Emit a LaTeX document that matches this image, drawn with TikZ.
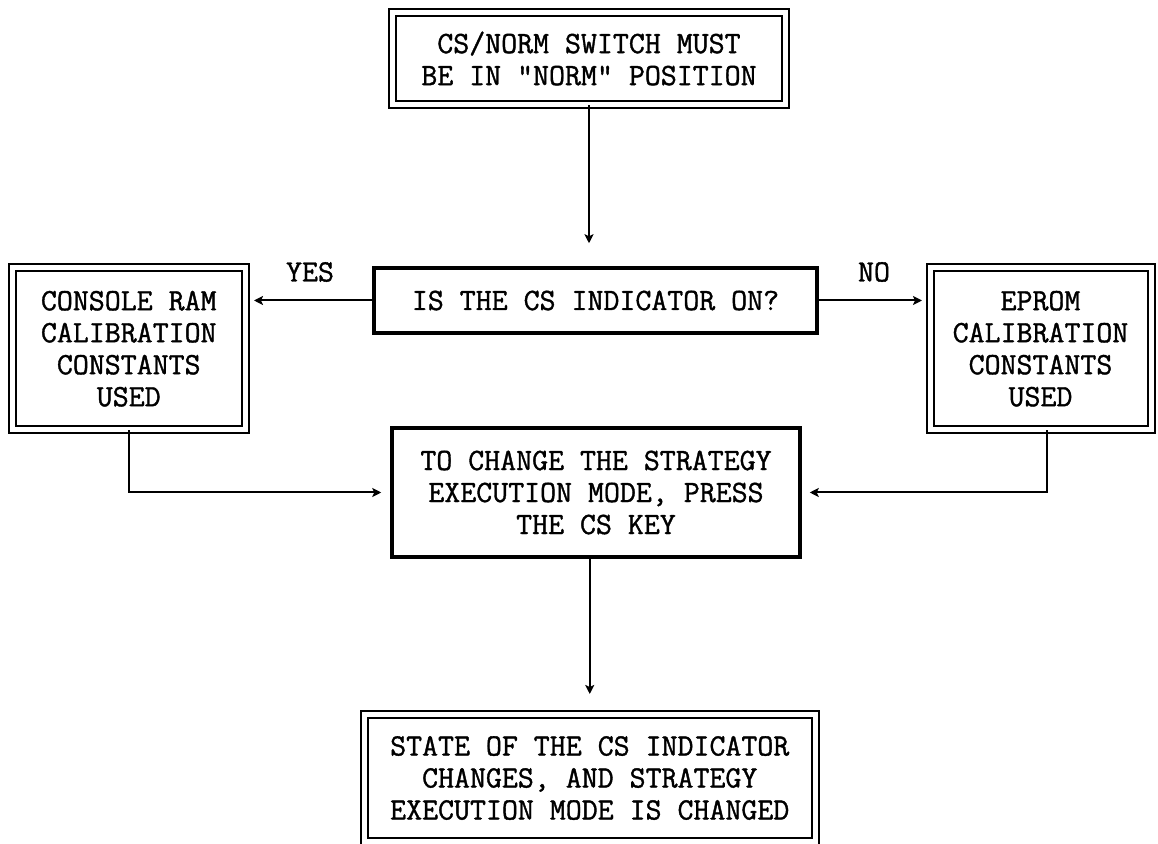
\documentclass[tikz,border=0pt]{standalone}
\usepackage{fontspec}
\usetikzlibrary{arrows.meta}
\newfontfamily\typer[FakeBold=1.2]{Latin Modern Mono}
\begin{document}
\begin{tikzpicture}[x=0.5pt,y=-0.5pt,
  txt/.style={font=\typer\fontsize{15.5}{16}\selectfont, align=center, inner sep=0pt},
  dblbox/.style={txt, draw, line width=1pt, double, double distance=2.5pt},
  thkbox/.style={txt, draw, line width=1.75pt},
  arr/.style={line width=1pt, -{Stealth[length=4.5pt,width=4.5pt,inset=1pt]}},
  lbl/.style={font=\typer\fontsize{15.5}{16}\selectfont, inner sep=0pt}]
\useasboundingbox (0,0) rectangle (1158,844);

% boxes
\node[dblbox, minimum width=196.25pt, minimum height=46pt] (top) at (589,58.5)
  {CS/NORM SWITCH MUST\\BE IN "NORM" POSITION};
\node[thkbox, minimum width=221.5pt, minimum height=32.5pt] (dec) at (595.5,300.5)
  {IS THE CS INDICATOR ON?};
\node[dblbox, minimum width=116.25pt, minimum height=80.75pt] (left) at (128.75,348.75)
  {CONSOLE RAM\\CALIBRATION\\CONSTANTS\\USED};
\node[dblbox, minimum width=110.5pt, minimum height=80.75pt] (right) at (1040.5,348.75)
  {EPROM\\CALIBRATION\\CONSTANTS\\USED};
\node[thkbox, minimum width=204pt, minimum height=64.5pt] (mid) at (596,492.5)
  {TO CHANGE THE STRATEGY\\EXECUTION MODE, PRESS\\THE CS KEY};
\node[dblbox, minimum width=225.75pt, minimum height=63pt] (bot) at (589.75,778)
  {STATE OF THE CS INDICATOR\\CHANGES, AND STRATEGY\\EXECUTION MODE IS CHANGED};

% labels
\node[lbl] (yes) at (310,272) {YES};
\node[lbl] (no) at (874,272) {NO};

% connectors
\draw[arr, shorten >=11.5pt] (top.south) -- (top.south |- dec.north);
\draw[arr, shorten >=4pt] (dec.west) -- (left.east |- dec.west);
\draw[arr, shorten >=3.5pt] (dec.east) -- (right.west |- dec.east);
\draw[arr, shorten >=4.5pt] (left.south) |- (mid.west);
\draw[arr, shorten >=4pt] ([xshift=3.25pt]right.south) |- (mid.east);
\draw[arr, shorten >=10pt] (bot.north |- mid.south) -- (bot.north);
\end{tikzpicture}
\end{document}
